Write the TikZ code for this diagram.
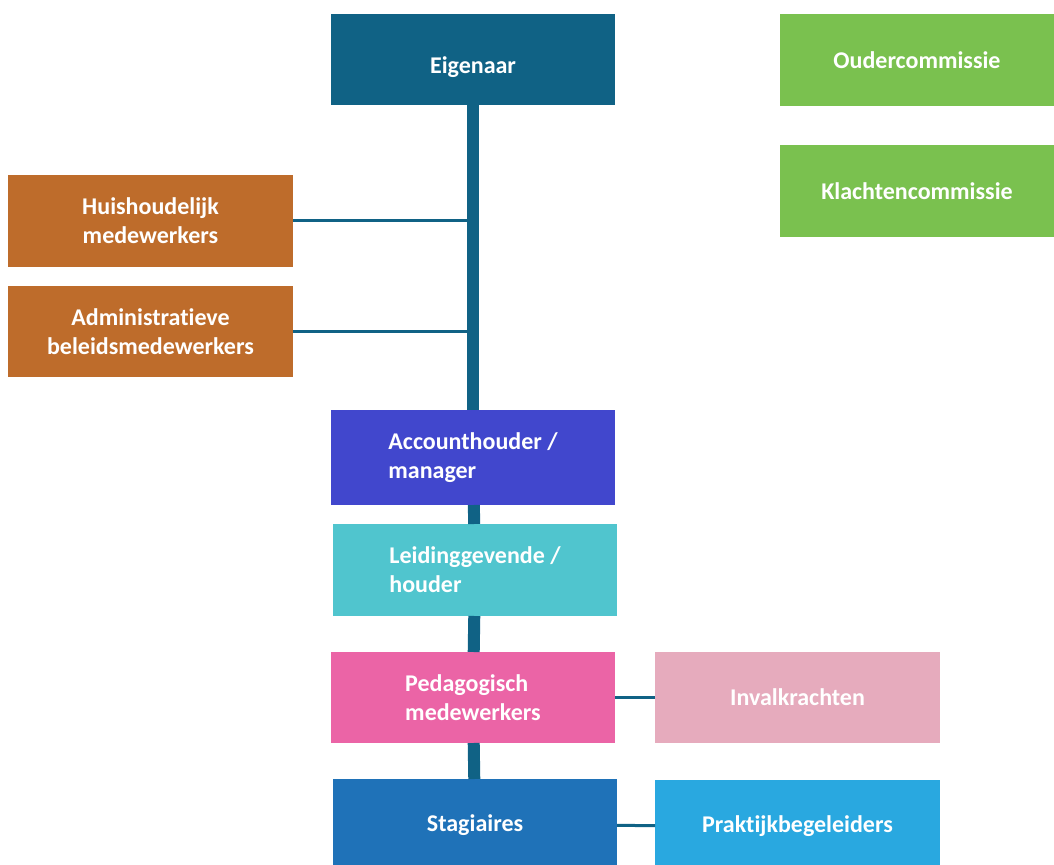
\documentclass[tikz,border=0pt]{standalone}
\usepackage{fontspec}
\setsansfont{Carlito}[Ligatures=CommonOff]
\usetikzlibrary{positioning}
\definecolor{trunkblue}{RGB}{16,98,133}
\definecolor{ownerblue}{RGB}{16,98,133}
\definecolor{staffbrown}{RGB}{190,108,43}
\definecolor{boardgreen}{RGB}{122,193,79}
\definecolor{managerblue}{RGB}{65,71,205}
\definecolor{leadcyan}{RGB}{80,197,206}
\definecolor{pedpink}{RGB}{235,100,166}
\definecolor{substpink}{RGB}{230,171,189}
\definecolor{internblue}{RGB}{31,114,184}
\definecolor{coachblue}{RGB}{41,168,224}

\begin{document}
\begin{tikzpicture}[
    % GLOBAL CFG
    x=0.5pt, y=-0.5pt,
    font=\sffamily\bfseries\fontsize{12}{14.6}\selectfont,
    % Styles
    box/.style={% For all boxes
        rectangle,
        text=white,
        inner sep=0pt,
        outer sep=0pt,
        minimum width=142pt,
        minimum height=46pt,
        align=center,
    },
    leftbox/.style={% For boxes with left aligned text
        box,
        align=left,
    },
    trunk/.style={% Main vertical line
        draw=trunkblue,
        line width=6pt,
    },
    branch/.style={% Thin side lines
        draw=trunkblue,
        line width=1.5pt,
    },
    ]

    \useasboundingbox (0,0) rectangle (1054,865);
    \clip (0,0) rectangle (1054,865);

    % Draw boxes of the main column
    \node [box, fill=ownerblue, minimum height=45.5pt, text height=16.6pt, text depth=2.4pt] (eig) at (473,59.5) {Eigenaar};
    \node [leftbox, fill=managerblue, minimum height=47.5pt] (acc) at (473,457.5) {Accounthouder /\\manager};
    \node [leftbox, fill=leadcyan] (leid) at (475,570) {Leidinggevende /\\houder};
    \node [leftbox, fill=pedpink, minimum height=45.5pt] (ped) at (473,697.5) {Pedagogisch\\medewerkers};
    \node [box, fill=internblue] (stag) at (475,825) {Stagiaires};

    % Draw side boxes
    \node [box, fill=staffbrown, minimum width=142.5pt] (hh) at (150.5,221) {Huishoudelijk\\medewerkers};
    \node [box, fill=staffbrown, minimum width=142.5pt, minimum height=45.5pt] (adm) at (150.5,331.5) {Administratieve\\beleidsmedewerkers};
    \node [box, fill=substpink, minimum width=142.5pt, minimum height=45.5pt] (inv) at (797.5,697.5) {Invalkrachten};
    \node [box, fill=coachblue, minimum width=142.5pt] (prak) at (797.5,826) {Praktijkbegeleiders};

    % Draw committees
    \node [box, fill=boardgreen, minimum width=137pt] (ouder) at (917,60) {Oudercommissie};
    \node [box, fill=boardgreen, minimum width=137pt] (klacht) at (917,191) {Klachtencommissie};

    % Connect all
    \draw [trunk] (eig) -- (acc);
    \draw [trunk] (acc) -- (leid);
    \draw [trunk] (leid) -- (ped);
    \draw [trunk] (ped) -- (stag);
    \draw [branch] (hh.east) -- (hh.east -| eig.south);
    \draw [branch] (adm.east) -- (adm.east -| eig.south);
    \draw [branch] (ped) -- (inv);
    \draw [branch] (stag) -- (prak);

\end{tikzpicture}
\end{document}
